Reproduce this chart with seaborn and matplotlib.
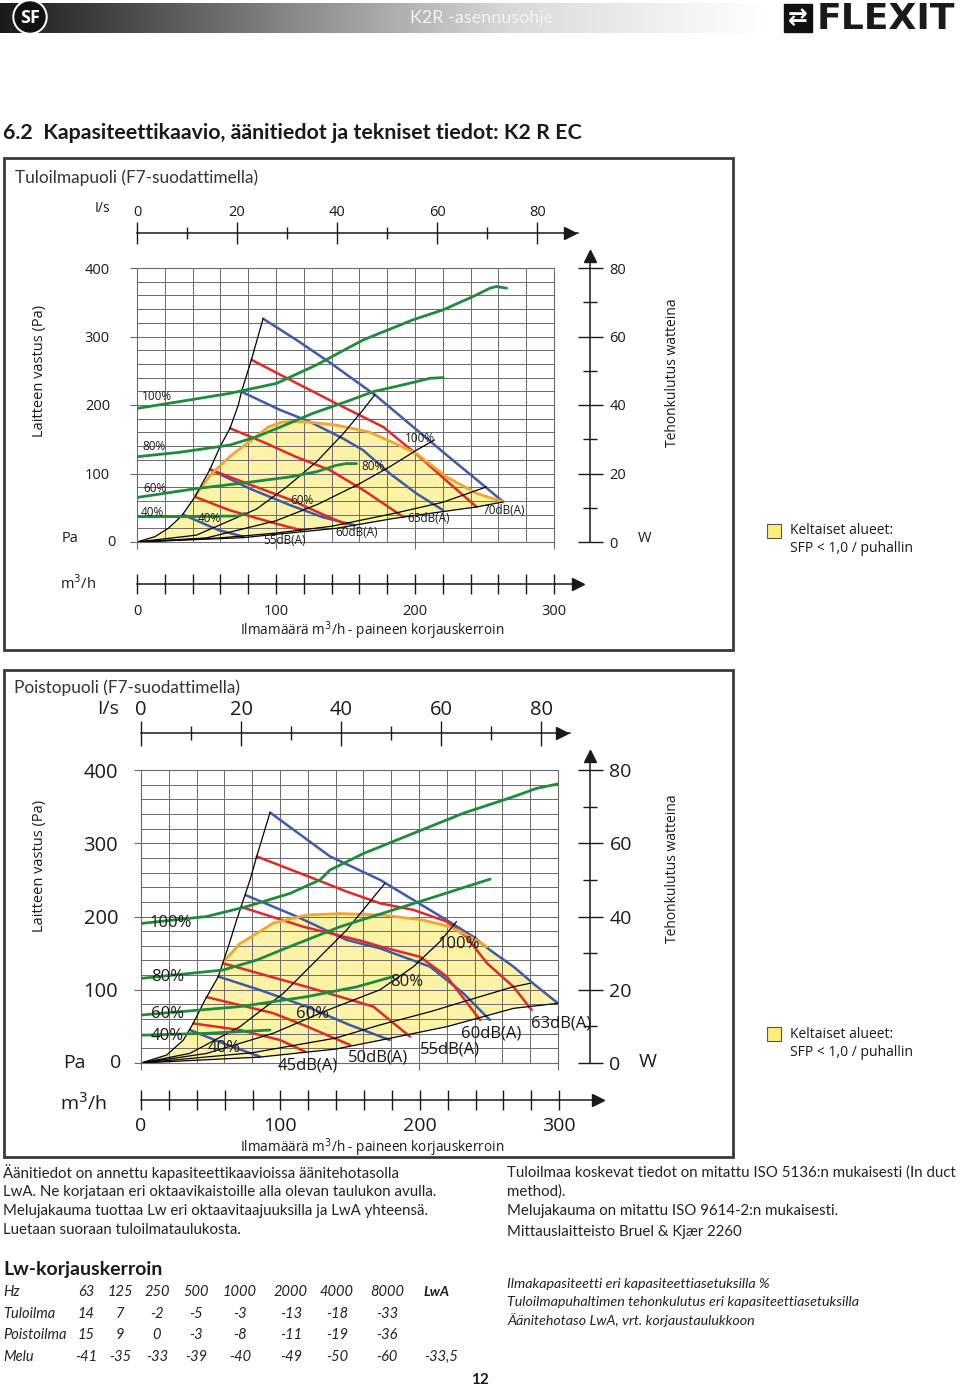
import numpy as np
import matplotlib
matplotlib.use("Agg")
import matplotlib.pyplot as plt
import seaborn as sns
from matplotlib.patches import Rectangle, Circle
from matplotlib.colors import LinearSegmentedColormap

# ---------------- data: Tuloilmapuoli (top chart) ----------------
# system curves, (m3/h, Pa)
TUL_SYSTEM = [
    ([0, 12.9, 22.5, 32.1, 41.7, 52.5, 59.7, 66.9, 72.9, 75.1, 82.3, 90.7],
     [0, 7.8, 20, 38, 66, 106, 139, 166, 200, 219, 266, 326]),
    ([0, 42.7, 85.9, 107.5, 129.1, 148.3, 162.7, 171.1],
     [0, 10, 48, 80, 117, 158, 193, 215]),
    ([0, 50, 100, 130, 160, 182, 201, 214],
     [0, 6, 31, 55, 85, 110, 134, 149]),
    ([0, 60, 100, 140, 185, 220, 251.5],
     [0, 6, 13, 23, 41.8, 58, 80.5]),
    ([0, 76, 143.5, 185, 244.3, 263.5],
     [0, 6.3, 20, 34.5, 51.2, 58.5]),
]
TUL_BLUE = [
    ([90.7, 114.7, 138.7, 171.1, 198.7, 222.7, 249.1, 263.5],
     [326, 295, 262, 215, 168, 127, 83, 58.5]),
    ([75.1, 102.7, 124.3, 148.3, 162.7, 181.9, 201.1, 220.3],
     [219.5, 193, 175.6, 151, 134, 100, 70.7, 46.3]),
    ([52.5, 81.1, 109.9, 133.9, 156.7],
     [106, 78, 54, 36, 24.4]),
    ([33, 58.5, 76.5],
     [40, 17.5, 7.8]),
]
TUL_RED = [
    ([82.3, 114.7, 143.5, 177.1, 203.5, 225.1, 244.3],
     [266, 232, 202, 168, 124, 85, 51.2]),
    ([66.9, 90.7, 114.7, 138.7, 162.7, 191.5],
     [166, 146, 124, 105, 76, 36.6]),
    ([52.5, 81, 110, 134, 150],
     [106, 84, 62, 40, 26]),
    ([41.7, 66.7, 95.5, 118.3],
     [66, 46.3, 29.3, 17]),
]
# fan power, (m3/h, W)
TUL_POWER = [
    ([0, 30.7, 66.7, 100.3, 129.1, 162.7, 198.7, 220.3, 241.9, 253.9, 258.7, 265.9],
     [39, 41, 43.4, 46.3, 51.7, 59, 64.9, 67.8, 71.7, 74.1, 74.6, 74.1]),
    ([0, 30.7, 66.7, 85.9, 102.7, 126.7, 150.7, 169.9, 191.5, 210.7, 220.3],
     [24.9, 26.2, 28.3, 30.7, 33.5, 37.6, 41, 43.9, 45.9, 47.8, 48]),
    ([0, 42.7, 73.9, 109.9, 129.1, 143.5, 150.7, 157.9],
     [13, 15.6, 17.1, 19, 20.5, 22.4, 22.9, 22.9]),
    ([0, 30.7, 72.9, 77.7],
     [7.4, 7.4, 7.6, 8.4]),
]
TUL_SFP_Q = [41.2, 53.7, 68.1, 82.5, 94.5, 104.1, 111.3, 123.3, 142.4, 166.4, 185.6, 201.1, 222.7, 244.3, 263.5]
TUL_SFP_PA = [66, 100, 127, 149, 168, 175, 176, 175, 171, 161, 144, 129, 95, 71, 58.5]

# ---------------- data: Poistopuoli (bottom chart) ----------------
POI_SYSTEM = [
    ([0, 18.5, 30.5, 37.6, 46, 55.6, 62.8, 68.8, 73.6, 78.4, 83.2, 92.8],
     [0, 10.9, 31.4, 54.2, 86, 117.9, 158.8, 195.2, 222.5, 249.8, 281.7, 341.8]),
    ([0, 35.3, 71.2, 102.4, 126.4, 148, 175.5],
     [0, 13.2, 49.6, 95.1, 140.6, 181.6, 245.3]),
    ([0, 47, 95, 134, 172, 196, 215, 227],
     [0, 13, 40.5, 72, 100, 131.5, 165.6, 193]),
    ([0, 80, 140, 172, 208, 244, 268, 280],
     [0, 14, 34, 52, 70, 90.6, 104.2, 108.8]),
    ([0, 85, 140, 172, 220, 268, 300],
     [0, 8, 19, 31, 49.6, 74.6, 81.5]),
]
POI_BLUE = [
    ([92.8, 136, 172, 196, 220, 239, 251, 268, 282, 300],
     [342, 282, 250, 222.5, 195, 172.5, 154.3, 131.5, 108.8, 81.5]),
    ([75.5, 112, 148, 172, 208, 232, 251],
     [229, 200, 168, 156.5, 131.5, 95, 58.7]),
    ([55.6, 85, 119.2, 150, 179],
     [118, 100, 77, 52, 31.4]),
    ([35.3, 59.2, 85.6],
     [45, 26.8, 8.6]),
]
POI_RED = [
    ([83.2, 124, 148, 172, 196, 220, 234, 249, 268, 281],
     [282, 252, 234, 218, 209, 193, 172.5, 136, 104, 72.4]),
    ([72, 116.8, 160, 172, 200.7, 220, 244],
     [213, 186, 166, 159, 145, 118, 58.7]),
    ([59.2, 119.2, 167.1, 193.5],
     [136, 104, 77, 36]),
    ([47.2, 95.2, 119.2, 150.4],
     [90, 68, 50, 24.6]),
    ([37.6, 71.2, 100, 118],
     [54, 45, 31.4, 15.5]),
]
POI_POWER = [
    ([0, 47.2, 76, 107.2, 128.8, 136, 160, 195.9, 231.9, 267.9, 284.7, 300],
     [38.1, 40, 42.7, 46.3, 50, 52.7, 57.2, 62.7, 68.2, 72.7, 75, 76.2]),
    ([0, 59.2, 83.2, 107.2, 143.2, 200.7, 251.1],
     [23.1, 25.4, 28.1, 31.8, 37.2, 44.1, 50.2]),
    ([0, 71.2, 119.2, 155.2, 181.5],
     [13.1, 15.4, 18.1, 20.8, 23.6]),
    ([0, 47.2, 92.8],
     [7.6, 8.1, 9]),
]
POI_SFP_Q = [59.2, 71.2, 95.2, 119.2, 143.2, 174.3, 203.1, 222.3, 236.7, 248.7]
POI_SFP_PA = [138, 163, 191, 202, 204, 202, 195, 186, 172.5, 158.8]

# axis ticks
LS_TICKS = [0, 20, 40, 60, 80]
M3H_TICKS = [0, 100, 200, 300]
PA_TICKS = [0, 100, 200, 300, 400]
W_TICKS = [0, 20, 40, 60, 80]

# Lw correction table
LW_HZ = ["63", "125", "250", "500", "1000", "2000", "4000", "8000", "LwA"]
LW_TULOILMA = ["14", "7", "-2", "-5", "-3", "-13", "-18", "-33", ""]
LW_POISTOILMA = ["15", "9", "0", "-3", "-8", "-11", "-19", "-36", ""]
LW_MELU = ["-41", "-35", "-33", "-39", "-40", "-49", "-50", "-60", "-33,5"]

GREEN = "#1f8a3c"
BLUE = "#3e5aa8"
RED = "#e02a2a"
ORANGE = "#f3a531"
YELLOW = "#fdf3a6"
INK = "#1a1a1a"
GRIDC = "#6a6a6a"

W_PX, H_PX = 960, 1387
sns.set_theme(style="white")
plt.rcParams["font.family"] = ["Open Sans", "DejaVu Sans"]

fig = plt.figure(figsize=(W_PX / 100, H_PX / 100), dpi=100)


def px_axes(left, top, width, height):
    ax = fig.add_axes([left / W_PX, 1 - (top + height) / H_PX, width / W_PX, height / H_PX])
    ax.patch.set_visible(False)
    return ax


def page_axes():
    ax = fig.add_axes([0, 0, 1, 1])
    ax.set_xlim(0, W_PX)
    ax.set_ylim(H_PX, 0)
    ax.axis("off")
    ax.patch.set_visible(False)
    return ax


bg = page_axes()

# header bar
cmap = LinearSegmentedColormap.from_list("hdr", ["#1b1b1b", "#7a7a7a", "#d9d9d9", "#ffffff"])
bg.imshow(np.linspace(0, 1, 256)[None, :], extent=(0, 765, 33, 3), cmap=cmap, aspect="auto")
bg.set_xlim(0, W_PX)
bg.set_ylim(H_PX, 0)
bg.add_patch(Circle((30, 17), 17, color="white"))
bg.add_patch(Circle((30, 17), 15, color="#111111"))
bg.add_patch(Rectangle((784, 4), 28, 28, color="#111111"))

# chart frames
bg.add_patch(Rectangle((4, 158), 729, 492, fill=False, lw=2, ec="#3a3a3a"))
bg.add_patch(Rectangle((4, 670), 729, 487, fill=False, lw=2, ec="#3a3a3a"))


def h_ruler(left, y, tip, ppu, major, minor, above, fs, pad, maj_len, min_len):
    ax = px_axes(left, y - 30, tip - left, 60)
    ax.set_xlim(0, (tip - left) / ppu)
    ax.set_ylim(-30, 30)
    side = "top" if above else "bottom"
    for s in ax.spines.values():
        s.set_visible(False)
    sp = ax.spines[side]
    sp.set_visible(True)
    sp.set_position(("data", 0))
    sp.set_color(INK)
    sp.set_linewidth(1.1)
    ax.xaxis.set_ticks_position(side)
    ax.set_xticks(major)
    ax.set_xticks(minor, minor=True)
    ax.set_xticklabels([str(v) for v in major])
    ax.tick_params(axis="x", which="major", direction="inout", length=maj_len, width=1,
                   color=INK, pad=pad, labelsize=fs, labelcolor=INK)
    ax.tick_params(axis="x", which="minor", direction="inout", length=min_len, width=1, color=INK)
    ax.set_yticks([])
    ax.plot([ax.get_xlim()[1] - 1.5], [0], marker=">", ms=9, color=INK, clip_on=False)
    return ax


def v_ruler(x, bottom, tip, ppu, major, minor, fs, pad, maj_len, min_len):
    ax = px_axes(x - 30, tip, 60, bottom - tip)
    ax.set_ylim(0, (bottom - tip) / ppu)
    ax.set_xlim(-30, 30)
    for s in ax.spines.values():
        s.set_visible(False)
    sp = ax.spines["right"]
    sp.set_visible(True)
    sp.set_position(("data", 0))
    sp.set_color(INK)
    sp.set_linewidth(1.1)
    ax.yaxis.set_ticks_position("right")
    ax.set_yticks(major)
    ax.set_yticks(minor, minor=True)
    ax.set_yticklabels([str(v) for v in major])
    ax.tick_params(axis="y", which="major", direction="inout", length=maj_len, width=1,
                   color=INK, pad=pad, labelsize=fs, labelcolor=INK)
    ax.tick_params(axis="y", which="minor", direction="inout", length=min_len, width=1, color=INK)
    ax.set_xticks([])
    ax.plot([0], [ax.get_ylim()[1] - 1], marker="^", ms=8, color=INK, clip_on=False)
    return ax


def draw_curves(ax, system, blue, red, power, sfp_q, sfp_pa, fill_tail):
    # yellow SFP area: left system curve, SFP boundary, bottom system curve
    sq, sp = system[0]
    lo_q, lo_p = system[-1]
    left_q = [q for q in sq if q < sfp_q[0]]
    left_p = sp[:len(left_q)]
    tail_q = [q for q in fill_tail[0] if q > sfp_q[-1]]
    tail_p = fill_tail[1][len(fill_tail[0]) - len(tail_q):]
    fq = left_q + sfp_q + tail_q + lo_q[::-1]
    fp = left_p + sfp_pa + tail_p + lo_p[::-1]
    ax.fill(fq, fp, color=YELLOW, lw=0, zorder=0.2)
    for q, p in blue:
        sns.lineplot(x=q, y=p, ax=ax, color=BLUE, lw=1.8, sort=False, estimator=None)
    for q, p in red:
        sns.lineplot(x=q, y=p, ax=ax, color=RED, lw=1.8, sort=False, estimator=None)
    sns.lineplot(x=sfp_q, y=sfp_pa, ax=ax, color=ORANGE, lw=2.0, sort=False, estimator=None)
    for q, p in system:
        sns.lineplot(x=q, y=p, ax=ax, color="black", lw=0.9, sort=False, estimator=None)
    axw = ax.twinx()
    axw.set_ylim(0, 80)
    axw.set_axis_off()
    for q, w in power:
        sns.lineplot(x=q, y=w, ax=axw, color=GREEN, lw=2.0, sort=False, estimator=None)


def grid_axes(left, top, width, height, fs, pad):
    ax = px_axes(left, top, width, height)
    ax.set_xlim(0, 300)
    ax.set_ylim(0, 400)
    ax.set_xticks(M3H_TICKS)
    ax.set_xticks(np.arange(0, 301, 20), minor=True)
    ax.set_yticks(PA_TICKS)
    ax.set_yticks(np.arange(0, 401, 20), minor=True)
    ax.set_xticklabels([])
    ax.set_yticklabels([""] + [str(v) for v in PA_TICKS[1:]])
    ax.grid(which="both", color=GRIDC, lw=0.7)
    ax.set_axisbelow(True)
    ax.tick_params(axis="both", which="major", direction="out", length=5, width=0.8,
                   color=GRIDC, left=True, bottom=True, pad=pad, labelsize=fs, labelcolor=INK)
    ax.tick_params(axis="both", which="minor", length=0)
    for s in ax.spines.values():
        s.set_color(GRIDC)
        s.set_linewidth(0.8)
    return ax


# ---------------- top chart ----------------
ax1 = grid_axes(137, 268, 417, 274, 10.5, 14.5)
draw_curves(ax1, TUL_SYSTEM, TUL_BLUE, TUL_RED, TUL_POWER, TUL_SFP_Q, TUL_SFP_PA, TUL_BLUE[0])
h_ruler(137, 233, 578, 5.004, LS_TICKS, [10, 30, 50, 70], True, 10.5, 1.5, 16, 9)
h_ruler(137, 584, 580, 1.39, M3H_TICKS, [v for v in range(20, 301, 20) if v % 100], False, 10.5, 7.5, 14, 14)
v_ruler(590, 542, 253, 274 / 80, W_TICKS, [10, 30, 50, 70], 10.5, 5, 18, 10)

# ---------------- bottom chart ----------------
ax2 = grid_axes(141, 770, 417, 293, 14.5, 11.5)
draw_curves(ax2, POI_SYSTEM, POI_BLUE, POI_RED, POI_POWER, POI_SFP_Q, POI_SFP_PA, POI_BLUE[0])
h_ruler(141, 733, 570, 5.004, LS_TICKS, [10, 30, 50, 70], True, 14.5, 0.5, 18, 10)
h_ruler(141, 1100, 600, 1.394, M3H_TICKS, [v for v in range(20, 301, 20) if v % 100], False, 14, 5, 14, 14)
v_ruler(590, 1063, 752, 293 / 80, W_TICKS, [10, 30, 50, 70], 14, 5, 18, 10)

fg = page_axes()


def t(x, y, s, size, **kw):
    kw.setdefault("color", INK)
    kw.setdefault("va", "center")
    fg.text(x, y, s, fontsize=size, **kw)


# header text
t(30, 18, "SF", 13, color="white", ha="center", weight="bold")
t(482, 18, "K2R -asennusohje", 13, color="#f2f2f2", ha="center", family=["Lato", "DejaVu Sans"])
t(798, 18, "⇄", 17, color="white", ha="center", family=["DejaVu Sans"], weight="bold")
t(817, 19, "FLEXIT", 26, weight="heavy", family=["DejaVu Sans"])

t(3, 133, "6.2  Kapasiteettikaavio, äänitiedot ja tekniset tiedot: K2 R EC", 15.4,
  weight="bold", family=["Lato", "DejaVu Sans"])

# top chart labels
t(15, 178, "Tuloilmapuoli (F7-suodattimella)", 12.4, family=["Lato", "DejaVu Sans"], color="#333333")
t(95, 208, "I/s", 10)
t(111, 542, "0", 10.5, ha="center")
t(70, 538, "Pa", 10.5, ha="center")
t(645, 538, "W", 10.5, ha="center")
t(78, 584, "m$^3$/h", 10.5, ha="center")
t(372, 631, "Ilmamäärä m$^3$/h - paineen korjauskerroin", 9.8, ha="center")
t(40, 371, "Laitteen vastus (Pa)", 10.5, rotation=90, ha="center")
t(672, 373, "Tehonkulutus watteina", 10, rotation=90, ha="center")
for s, x, y in [("100%", 142, 397), ("80%", 142, 446), ("60%", 143, 488), ("40%", 141, 512),
                ("40%", 198, 519), ("60%", 290, 501), ("80%", 361, 467), ("100%", 405, 439)]:
    t(x, y, s, 8.5)
for s, x, y in [("55dB(A)", 263, 540), ("60dB(A)", 335, 533), ("65dB(A)", 407, 519), ("70dB(A)", 482, 510)]:
    t(x, y, s, 8.5)
fg.add_patch(Rectangle((767, 524), 14, 14, fc="#fdf07a", ec="#555555", lw=0.8))
t(790, 531, "Keltaiset alueet:", 10)
t(790, 548, "SFP < 1,0 / puhallin", 10)

# bottom chart labels
t(14, 688, "Poistopuoli (F7-suodattimella)", 12.4, family=["Lato", "DejaVu Sans"], color="#333333")
t(97, 709, "I/s", 14)
t(116, 1063, "0", 14, ha="center")
t(74, 1063, "Pa", 14, ha="center")
t(648, 1062, "W", 14, ha="center")
t(84, 1103, "m$^3$/h", 14, ha="center")
t(372, 1148, "Ilmamäärä m$^3$/h - paineen korjauskerroin", 9.8, ha="center")
t(40, 866, "Laitteen vastus (Pa)", 10.5, rotation=90, ha="center")
t(672, 869, "Tehonkulutus watteina", 10, rotation=90, ha="center")
for s, x, y in [("100%", 150, 923), ("80%", 151, 977), ("60%", 151, 1014), ("40%", 151, 1036),
                ("40%", 208, 1048), ("60%", 296, 1014), ("80%", 390, 982), ("100%", 438, 944)]:
    t(x, y, s, 12)
for s, x, y in [("45dB(A)", 278, 1065), ("50dB(A)", 348, 1057), ("55dB(A)", 420, 1050),
                ("60dB(A)", 461, 1033), ("63dB(A)", 531, 1024)]:
    t(x, y, s, 12)
fg.add_patch(Rectangle((767, 1027), 14, 14, fc="#fdf07a", ec="#555555", lw=0.8))
t(790, 1035, "Keltaiset alueet:", 10)
t(790, 1052, "SFP < 1,0 / puhallin", 10)

# text blocks
body = dict(family=["Lato", "DejaVu Sans"], weight="normal", color="#222222")
for y, s in zip([1173, 1192, 1211, 1230], [
        "Äänitiedot on annettu kapasiteettikaavioissa äänitehotasolla",
        "LwA. Ne korjataan eri oktaavikaistoille alla olevan taulukon avulla.",
        "Melujakauma tuottaa Lw eri oktaavitaajuuksilla ja LwA yhteensä.",
        "Luetaan suoraan tuloilmataulukosta."]):
    t(3, y, s, 10.8, **body)
for y, s in zip([1173, 1192, 1211, 1232], [
        "Tuloilmaa koskevat tiedot on mitattu ISO 5136:n mukaisesti (In duct",
        "method).",
        "Melujakauma on mitattu ISO 9614-2:n mukaisesti.",
        "Mittauslaitteisto Bruel & Kjær 2260"]):
    t(507, y, s, 10.8, **body)
for y, s in zip([1284, 1302, 1320], [
        "Ilmakapasiteetti eri kapasiteettiasetuksilla %",
        "Tuloilmapuhaltimen tehonkulutus eri kapasiteettiasetuksilla",
        "Äänitehotaso LwA, vrt. korjaustaulukkoon"]):
    t(507, y, s, 10.3, style="italic", **body)

t(3, 1270, "Lw-korjauskerroin", 14, weight="bold", family=["Lato", "DejaVu Sans"])
col_x = [86, 120, 157, 196, 240, 291, 337, 387, 436]
for y, name, vals in zip([1292, 1314, 1335, 1357], ["Hz", "Tuloilma", "Poistoilma", "Melu"],
                         [LW_HZ, LW_TULOILMA, LW_POISTOILMA, LW_MELU]):
    t(3, y, name, 10.5, style="italic", **body)
    for x, v in zip(col_x, vals):
        if v == "LwA":
            t(x, y, v, 10, style="italic", weight="bold", ha="center", family=["Lato", "DejaVu Sans"])
        else:
            t(x + (5 if v == "-33,5" else 0), y, v, 10.5, style="italic", ha="center", **body)

t(480, 1380, "12", 11, ha="center", weight="bold", family=["Lato", "DejaVu Sans"])

fig.savefig("out.png", dpi=100)
